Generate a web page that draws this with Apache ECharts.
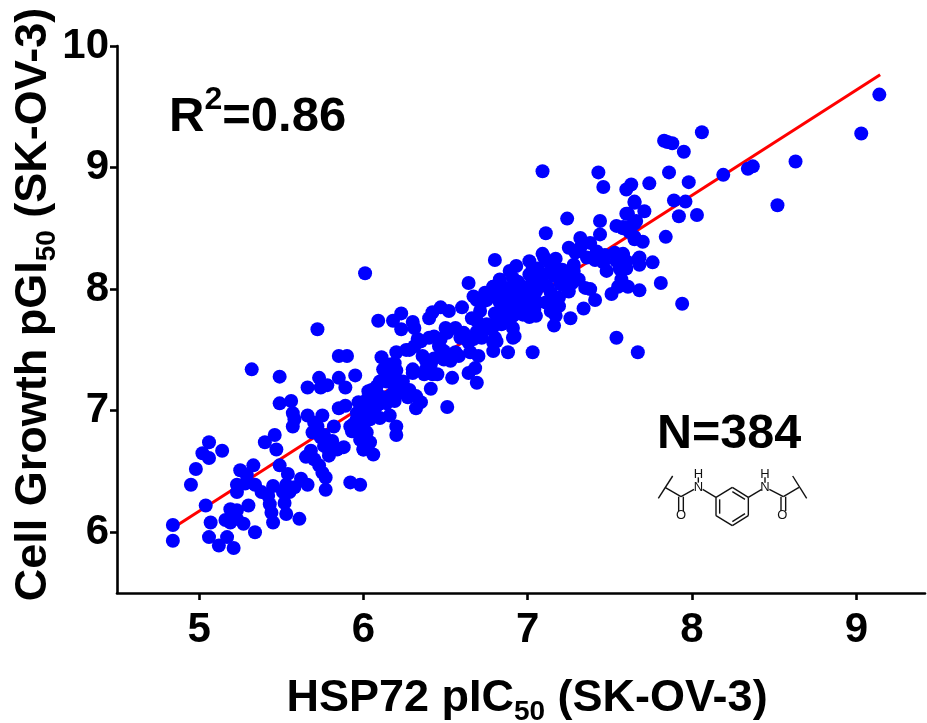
<!DOCTYPE html>
<html><head><meta charset="utf-8">
<script src="https://cdn.jsdelivr.net/npm/echarts@6/dist/echarts.min.js"></script>
<style>html,body{margin:0;padding:0;background:#fff}#c{width:927px;height:723px}</style></head>
<body><div id="c"></div>
<script>
const points = [[4.84,6.06],[4.84,5.93],[5.04,6.22],[4.95,6.39],[4.98,6.52],[5.02,6.65],[5.06,6.74],[5.06,6.61],[5.14,6.67],[5.07,6.08],[5.06,5.96],[5.12,5.89],[5.17,5.96],[5.21,5.87],[5.34,6.00],[5.16,6.10],[5.19,6.19],[5.23,6.18],[5.19,6.08],[5.23,6.11],[5.27,6.07],[5.30,6.22],[5.23,6.33],[5.23,6.39],[5.25,6.51],[5.29,6.47],[5.33,6.55],[5.34,6.39],[5.38,6.33],[5.42,6.30],[5.45,6.38],[5.43,6.23],[5.44,6.16],[5.45,6.08],[5.40,6.74],[5.46,6.80],[5.47,6.68],[5.49,6.55],[5.54,6.48],[5.53,6.39],[5.55,6.33],[5.52,6.24],[5.53,6.15],[5.61,6.11],[5.62,6.44],[5.66,6.39],[5.32,7.34],[5.49,7.28],[5.56,7.08],[5.49,7.06],[5.57,6.98],[5.58,6.93],[5.57,6.87],[5.66,7.19],[5.73,7.27],[5.74,7.19],[5.78,7.21],[5.85,7.27],[5.89,7.19],[5.95,7.29],[5.85,7.02],[5.89,7.04],[5.75,6.96],[5.66,6.96],[5.70,6.90],[5.82,6.87],[5.69,6.82],[5.74,6.78],[5.81,6.75],[5.88,6.70],[6.00,6.68],[5.68,6.67],[5.65,6.62],[5.70,6.60],[5.79,6.63],[5.76,6.71],[5.81,6.68],[5.73,6.55],[5.75,6.49],[5.77,6.45],[5.77,6.35],[5.92,6.41],[5.98,6.39],[5.85,7.45],[5.90,7.45],[5.97,7.07],[6.03,7.16],[5.94,6.89],[5.97,6.91],[6.02,6.82],[5.96,6.98],
[6.01,8.13],[5.72,7.67],[6.11,7.44],[6.09,7.74],[6.18,7.74],[6.23,7.80],[6.23,7.67],[6.30,7.73],[6.31,7.68],[6.40,7.76],[6.42,7.81],[6.47,7.85],[6.52,7.82],[6.60,7.85],[6.64,8.05],[6.67,7.94],[6.66,7.76],[6.71,7.82],[6.73,7.90],[6.77,7.94],[6.79,8.02],[6.83,8.06],[6.89,8.15],[6.93,8.19],[6.80,8.24],[6.91,8.00],[6.88,7.96],[6.80,7.80],[6.87,7.82],[6.93,7.86],[6.85,7.74],[6.88,7.48],[6.81,7.57],[6.79,7.49],[6.75,7.68],[6.72,7.60],[6.69,7.65],[6.67,7.59],[6.70,7.45],[6.68,7.35],[6.64,7.31],[6.69,7.23],[6.54,7.27],[6.58,7.45],[6.53,7.41],[6.56,7.68],[6.50,7.68],[6.59,7.60],[6.49,7.49],[6.47,7.59],[6.40,7.60],[6.33,7.59],[6.28,7.50],[6.20,7.48],[6.19,7.39],[6.38,7.41],[6.43,7.43],[6.42,7.30],[6.37,7.30],[6.30,7.31],[6.41,7.18],[6.51,7.03],[6.32,7.02],[6.35,7.07],[6.27,7.11],[6.28,7.17],[6.24,7.24],[6.19,7.27],[6.12,7.34],[6.15,7.30],[6.10,7.24],[6.05,7.17],[6.08,7.15],[6.17,7.13],[6.19,7.08],[6.12,7.11],[6.03,7.07],[6.07,7.02],[6.16,6.96],[6.10,6.94],[6.20,6.87],[6.20,6.80],[6.03,6.95],[5.98,6.94],[5.92,6.87],[6.01,6.80],[6.04,6.74],[6.00,6.68],[6.06,6.64],
[7.24,8.58],[7.11,8.46],[7.01,8.23],[7.03,8.17],[7.09,8.29],[7.17,8.25],[7.13,8.22],[7.25,8.34],[7.32,8.42],[7.38,8.38],[7.29,8.30],[7.28,8.20],[7.28,8.15],[7.44,8.56],[7.44,8.45],[7.41,8.24],[7.47,8.28],[7.48,8.15],[7.54,8.52],[7.58,8.50],[7.60,8.62],[7.65,8.71],[7.71,8.64],[7.65,8.54],[7.65,8.43],[7.70,8.39],[7.84,8.43],[7.92,8.60],[8.03,8.61],[7.53,8.30],[7.58,8.28],[7.60,8.17],[7.56,8.17],[7.67,8.24],[7.68,8.20],[7.76,8.22],[7.57,8.08],[7.51,7.96],[7.61,8.02],[7.68,7.99],[7.81,8.05],[7.94,7.88],[7.54,7.60],[7.67,7.48],[7.41,7.91],[7.34,7.84],[7.26,7.76],[7.16,7.70],[7.17,7.78],[7.19,7.86],[7.19,7.93],[7.05,7.78],[7.01,7.77],[7.03,7.48],[6.92,7.61],[6.91,7.68],[6.80,7.60],[6.74,7.68],[6.85,7.82],[6.92,7.79],[6.89,7.75],[6.84,7.71],[7.38,8.00],[7.35,8.01],[7.31,8.08],[7.25,7.98],[7.20,8.09],[7.16,8.11],[7.03,8.08],[6.94,8.06],[6.83,8.08],[6.79,8.02],[6.75,7.91],[6.90,7.98],[6.96,7.94],[7.01,7.92],[7.05,7.98],[7.12,8.02],[7.11,7.89],[7.15,7.87],[7.06,7.89],[6.97,7.86],[6.88,7.91],[6.91,8.00],[6.99,8.01],[7.10,8.12],[7.15,8.16],[7.22,8.04],[6.86,8.01],[6.97,8.02],[7.07,8.05],[7.14,7.97],[7.01,7.82],[7.21,8.16],
[9.14,9.60],[9.03,9.28],[8.63,9.05],[8.52,8.69],[8.37,9.01],[8.34,8.99],[8.19,8.94],[8.06,9.29],[7.83,9.22],[7.85,9.21],[7.88,9.20],[7.95,9.13],[7.86,8.96],[7.98,8.88],[7.74,8.87],[7.63,8.86],[7.60,8.82],[7.65,8.72],[7.61,8.62],[7.89,8.73],[7.96,8.72],[7.66,8.56],[7.63,8.52],[7.58,8.51],[7.65,8.41],[7.58,8.29],[7.68,8.26],[7.09,8.97],[7.43,8.96],[7.46,8.84],
[6.02,7.09],[6.05,7.12],[6.09,7.05],[6.00,7.01],[5.96,6.93],[5.93,6.83],[6.00,6.87],[6.04,6.93],[5.98,6.76],[6.14,7.06],[6.08,7.20],[6.14,7.24],[6.19,7.19],[6.22,7.15],[6.32,7.12],[6.16,7.38],[6.20,7.33],[6.26,7.50],[6.31,7.53],[6.35,7.57],[6.43,7.61],[6.30,7.34],[6.38,7.34],[6.45,7.30],[6.36,7.45],[6.41,7.38],[6.49,7.42],[6.46,7.53],[6.51,7.64],[6.61,7.64],[6.56,7.48],[6.65,7.48],[6.64,7.56],[6.69,7.74],[6.74,7.67],[6.79,7.69],[6.83,7.77],[6.91,7.78],[6.85,7.86],[6.89,7.89],[6.81,7.97],[6.85,8.00],[6.93,8.05],[6.91,7.60],[6.69,7.91],[6.74,7.97],
[5.58,6.37],[5.51,6.33],[5.76,6.80],[5.79,6.67],[5.84,6.68],[5.72,6.87],[5.20,6.12],[5.94,6.83],
[6.91,8.09],[7.01,8.12],[7.06,8.17],[7.24,8.09],[7.27,8.05],[7.36,8.26],[7.42,8.31],[7.32,8.34],[7.57,8.15],[7.55,8.02],[7.54,8.23],[7.60,8.23],[6.83,7.89],[6.77,7.97],[6.97,7.79],[7.14,7.82],[6.81,7.78],[6.85,7.86],[6.75,7.71],[6.79,7.56],[6.94,7.91],[7.04,7.83],[7.20,8.04],[7.10,8.26],
[7.46,8.22],[7.62,8.47],[5.28,6.40]];
const fitLine = [[4.84,6.035],[9.145,9.763]];
const xTicks = [5,6,7,8,9];
const yTicks = [6,7,8,9,10];
const FONT = '"Liberation Sans", Arial, sans-serif';
const chart = echarts.init(document.getElementById('c'), null, {renderer:'canvas'});
const z = (a,b)=>[620+a/3, 400+b/3];
const seg = (a,b,c,d,w)=>{const p=z(a,b),q=z(c,d);return {type:'line',silent:true,shape:{x1:p[0],y1:p[1],x2:q[0],y2:q[1]},style:{stroke:'#111',lineWidth:w||1.4}};};
const lab = (t,a,b)=>{const p=z(a,b);return {type:'text',silent:true,x:p[0],y:p[1],style:{text:t,fontFamily:FONT,fontSize:13,fill:'#111',align:'center',verticalAlign:'middle'}};};
const mol = [
 seg(115,295,158,228),seg(135,262,183,290),seg(176,290,176,333),seg(190,290,190,333),seg(183,290,222,268),seg(248,268,288,292),
 seg(288,292,337,262),seg(337,262,385,292),seg(385,292,385,347),seg(385,347,337,377),seg(337,377,288,347),seg(288,347,288,292),
 seg(337,275,375,298),seg(375,341,337,365),seg(299,341,299,298),
 seg(385,292,425,268),seg(448,268,490,290),seg(483,290,483,333),seg(497,290,497,333),seg(490,290,537,262),seg(518,228,560,295),
 seg(235,232,235,248),seg(435,232,435,248),
 lab('N',235,262),lab('H',235,222),lab('O',183,347),lab('N',435,262),lab('H',435,222),lab('O',487,347)
];
const nameRich = {b:{fontFamily:FONT,fontWeight:'bold',fontSize:45,color:'#000',lineHeight:50,verticalAlign:'middle'},s:{fontFamily:FONT,fontWeight:'bold',fontSize:28,color:'#000',lineHeight:50,padding:[26,0,0,0],verticalAlign:'middle'}};
chart.setOption({
 animation:false,
 backgroundColor:'#fff',
 grid:{left:117,top:46,width:808,height:547,containLabel:false,outerBoundsMode:'none'},
 xAxis:{type:'value',min:4.5,max:9.418,splitLine:{show:false},
  axisLine:{onZero:false,lineStyle:{color:'#000',width:2.6}},
  axisTick:{customValues:xTicks,length:7,lineStyle:{color:'#000',width:2.6}},
  axisLabel:{customValues:xTicks,color:'#000',fontFamily:FONT,fontWeight:'bold',fontSize:42,margin:16,formatter:v=>String(v)},
  name:'{b|HSP72 pIC}{s|50}{b| (SK-OV-3)}',nameLocation:'middle',nameGap:81,nameMoveOverlap:false,
  nameTextStyle:{rich:nameRich,padding:[0,0,0,12]}},
 yAxis:{type:'value',min:5.5,max:10,splitLine:{show:false},
  axisLine:{onZero:false,lineStyle:{color:'#000',width:2.6}},
  axisTick:{customValues:yTicks,length:7,lineStyle:{color:'#000',width:2.6}},
  axisLabel:{customValues:yTicks,color:'#000',fontFamily:FONT,fontWeight:'bold',fontSize:42,margin:8,padding:[4,0,0,0],formatter:v=>String(v)},
  name:'{b|Cell Growth pGI}{s|50}{b| (SK-OV-3)}',nameLocation:'middle',nameGap:58,nameRotate:90,nameMoveOverlap:false,
  nameTextStyle:{rich:nameRich,padding:[0,0,0,30]}},
 graphic:[
  {type:'text',silent:true,left:169,top:84,style:{rich:{b:{fontFamily:FONT,fontWeight:'bold',fontSize:49,fill:'#000',lineHeight:50,verticalAlign:'middle'},u:{fontFamily:FONT,fontWeight:'bold',fontSize:32,fill:'#000',lineHeight:50,padding:[0,0,34,0],verticalAlign:'middle'}},text:'{b|R}{u|2}{b|=0.86}'}},
  {type:'text',silent:true,left:657,top:410,style:{text:'N=384',fontFamily:FONT,fontWeight:'bold',fontSize:48.5,fill:'#000'}},
  ...mol
 ],
 series:[
  {type:'line',data:fitLine,showSymbol:false,symbol:'none',z:2,lineStyle:{color:'#ff0000',width:3},silent:true},
  {type:'scatter',data:points,symbol:'circle',symbolSize:14,z:3,itemStyle:{color:'#0000ff',opacity:1},silent:true}
 ]
});
</script></body></html>
